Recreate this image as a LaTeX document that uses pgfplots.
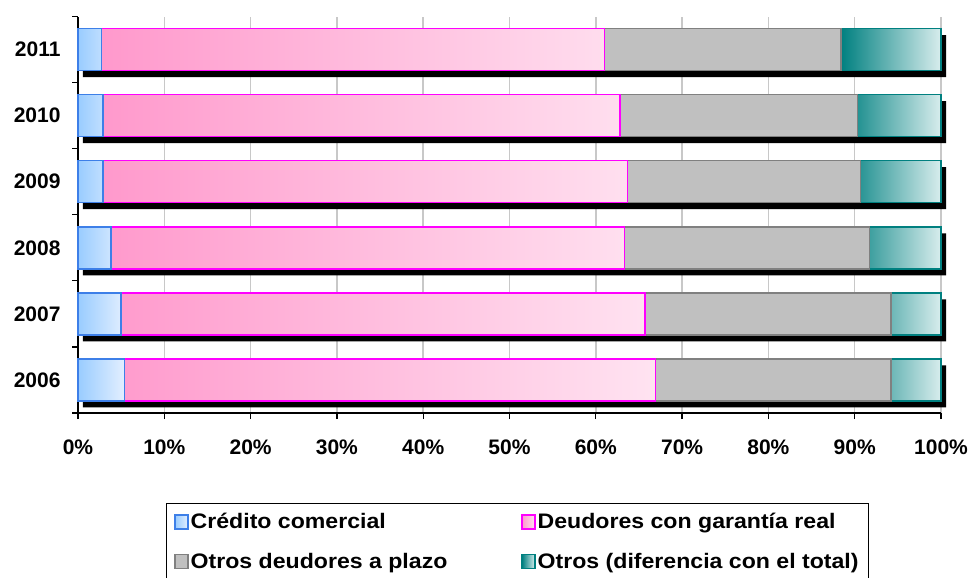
\documentclass[border=0pt]{standalone}
\usepackage{fontspec}
\setmainfont{Liberation Sans}
\newfontfamily\legfont{Liberation Sans}[FakeStretch=1.1]
\usepackage{pgfplots}
\pgfplotsset{compat=1.18}
\usepackage{pgfplotstable}

\definecolor{blueedge}{HTML}{3D7FE8}
\definecolor{blueL}{HTML}{99CCFF}
\definecolor{blueR}{HTML}{E3EFFF}
\definecolor{pinkedge}{HTML}{FF00FF}
\definecolor{pinkL}{HTML}{FF99CC}
\definecolor{pinkR}{HTML}{FFE3F1}
\definecolor{grayfill}{HTML}{C0C0C0}
\definecolor{grayedge}{HTML}{808080}
\definecolor{tealedge}{HTML}{008080}
\definecolor{tealR}{HTML}{D8EDED}
\definecolor{gridgray}{HTML}{C8C8C8}

% idx 1 = 2006 ... 6 = 2011, percentages
\pgfplotstableread{
idx cred deud otrdeu otros total
1   5.4  61.5 27.3   5.8   100
2   5.0  60.7 28.5   5.8   100
3   3.8  59.5 28.4   8.3   100
4   2.9  60.8 27.0   9.3   100
5   2.9  59.9 27.5   9.7   100
6   2.7  58.3 27.4   11.6  100
}\datos

\pgfplotsset{
  base/.style={
    scale only axis, width=863bp, height=396.5bp,
    xmin=0, xmax=100, ymin=0.5, ymax=6.5,
    clip=false,
    ticklabel style={font=\fontsize{21bp}{25bp}\selectfont\bfseries},
  },
}

\begin{document}
\begin{tikzpicture}
% grid, axis lines, ticks and the black shadows
\begin{axis}[
    base,
    xbar, bar width=42bp,
    axis x line*=bottom, axis y line*=left,
    axis line style={black, line width=1.3bp},
    tick align=outside, major tick length=6bp,
    tick style={black, line width=1.3bp},
    xtick={0,10,...,100},
    xticklabels={0\%,10\%,20\%,30\%,40\%,50\%,60\%,70\%,80\%,90\%,100\%},
    xticklabel style={yshift=-17bp},
    ytick={0.5,1.5,...,6.5}, yticklabels={},
    xmajorgrids, grid style={gridgray, line width=1.5bp},
]
\addplot[fill=black, draw=none, xshift=5bp, yshift=-6.5bp]
  table[x=total, y=idx] {\datos};
\end{axis}

% the stacked bars, year labels and legend
\begin{axis}[
    base, name=ax,
    xbar stacked, bar width=42bp,
    axis x line*=bottom, axis y line*=left,
    axis line style={draw=none},
    xtick=\empty,
    ytick={1,...,6},
    yticklabels={2006,2007,2008,2009,2010,2011},
    major tick length=0pt, ytick style={draw=none},
    yticklabel style={xshift=-14bp},
    every axis plot/.append style={line width=1.5bp},
    legend columns=2,
    legend cell align=left,
    legend image code/.code={
      \draw[#1, line width=1.3bp] (0bp,-7bp) rectangle (13bp,7bp);
    },
    legend style={
      at={(axis description cs:0.5,0)}, anchor=north,
      xshift=8bp, yshift=-90bp,
      draw=black, line width=1bp,
      font=\legfont\fontsize{21bp}{25bp}\selectfont\bfseries,
      row sep=19bp, inner xsep=8bp, inner ysep=8bp,
      /tikz/every even column/.append style={column sep=72bp},
    },
]
\addplot[draw=blueedge, left color=blueL, right color=blueR]
  table[x=cred, y=idx] {\datos};
\addplot[draw=pinkedge, left color=pinkL, right color=pinkR]
  table[x=deud, y=idx] {\datos};
\addplot[draw=grayedge, fill=grayfill]
  table[x=otrdeu, y=idx] {\datos};
\addplot[draw=tealedge, left color=tealedge, right color=tealR]
  table[x=otros, y=idx] {\datos};
\legend{Crédito comercial, Deudores con garantía real,
        Otros deudores a plazo, Otros (diferencia con el total)}
\end{axis}

\pgfresetboundingbox
\path (ax.south west) ++(-78bp,-165bp) rectangle ++(973bp,578bp);
\end{tikzpicture}
\end{document}
